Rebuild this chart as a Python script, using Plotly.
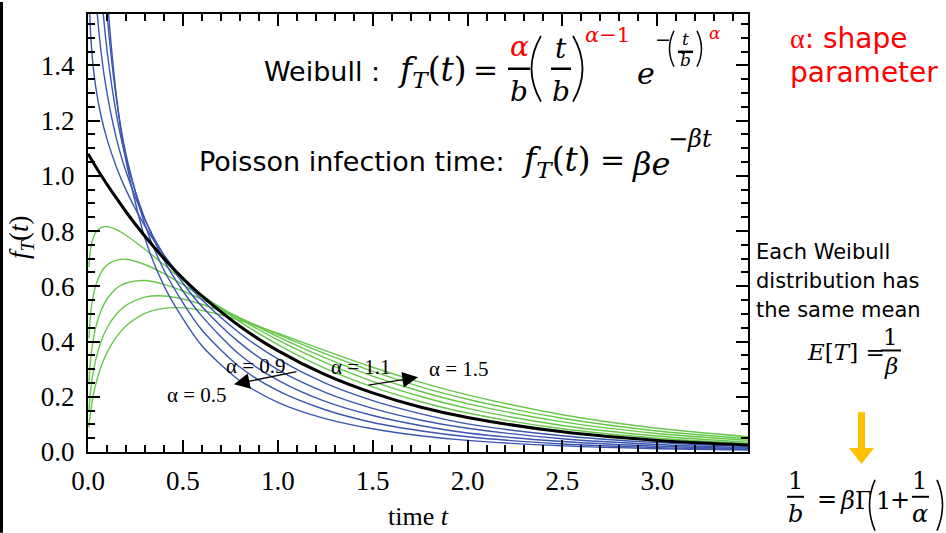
import plotly.graph_objects as go

# ---------------- data ----------------
t_vals = [0.005, 0.01, 0.02, 0.04, 0.07, 0.1, 0.15, 0.2, 0.3, 0.4, 0.5, 0.6,
          0.8, 1.0, 1.25, 1.5, 1.75, 2.0, 2.5, 3.0, 3.5]
t_black = [0.0] + t_vals

alpha_blue = ["0.5", "0.6", "0.7", "0.8", "0.9"]
alpha_green = ["1.1", "1.2", "1.3", "1.4", "1.5"]

f_05 = [8.247, 5.800, 4.057, 2.808, 2.055, 1.664, 1.288, 1.056, 0.774, 0.602, 0.483, 0.385,
        0.258, 0.180, 0.121, 0.084, 0.059, 0.042, 0.022, 0.012, 0.007]
f_06 = [5.823, 4.390, 3.291, 2.441, 1.889, 1.586, 1.277, 1.079, 0.823, 0.659, 0.541, 0.442,
        0.308, 0.222, 0.153, 0.107, 0.077, 0.055, 0.029, 0.016, 0.009]
f_07 = [3.964, 3.202, 2.573, 2.045, 1.674, 1.456, 1.222, 1.062, 0.844, 0.695, 0.583, 0.492,
        0.352, 0.260, 0.183, 0.132, 0.096, 0.069, 0.038, 0.021, 0.012]
f_08 = [2.622, 2.270, 1.955, 1.666, 1.442, 1.300, 1.135, 1.016, 0.841, 0.712, 0.612, 0.527,
        0.395, 0.298, 0.216, 0.158, 0.116, 0.086, 0.048, 0.027, 0.015]
f_09 = [1.694, 1.572, 1.451, 1.325, 1.213, 1.133, 1.031, 0.949, 0.818, 0.714, 0.626, 0.551,
        0.430, 0.337, 0.249, 0.186, 0.139, 0.102, 0.059, 0.034, 0.019]
f_10 = [1.080, 1.074, 1.068, 1.057, 1.034, 1.001, 0.969, 0.919, 0.870, 0.781, 0.701, 0.629,
        0.565, 0.455, 0.367, 0.280, 0.214, 0.163, 0.125, 0.073, 0.042, 0.025]
f_11 = [0.670, 0.714, 0.757, 0.794, 0.813, 0.816, 0.805, 0.785, 0.734, 0.678, 0.622, 0.569,
        0.472, 0.389, 0.303, 0.236, 0.183, 0.141, 0.084, 0.050, 0.030]
f_12 = [0.412, 0.470, 0.535, 0.601, 0.651, 0.677, 0.695, 0.698, 0.679, 0.646, 0.606, 0.564,
        0.482, 0.406, 0.324, 0.256, 0.202, 0.158, 0.096, 0.058, 0.035]
f_13 = [0.250, 0.306, 0.373, 0.449, 0.514, 0.554, 0.593, 0.612, 0.621, 0.607, 0.583, 0.553,
        0.486, 0.418, 0.341, 0.275, 0.220, 0.175, 0.109, 0.067, 0.041]
f_14 = [0.150, 0.197, 0.257, 0.332, 0.402, 0.449, 0.500, 0.531, 0.561, 0.565, 0.554, 0.535,
        0.484, 0.426, 0.356, 0.292, 0.237, 0.191, 0.122, 0.076, 0.047]
f_15 = [0.089, 0.125, 0.175, 0.243, 0.311, 0.360, 0.417, 0.456, 0.502, 0.520, 0.522, 0.513,
        0.477, 0.430, 0.367, 0.307, 0.253, 0.207, 0.135, 0.086, 0.054]

blue_series = [f_05, f_06, f_07, f_08, f_09]
green_series = [f_11, f_12, f_13, f_14, f_15]

x_ticks = [0.0, 0.5, 1.0, 1.5, 2.0, 2.5, 3.0]
y_ticks = [0.0, 0.2, 0.4, 0.6, 0.8, 1.0, 1.2, 1.4]

# ---------------- styling ----------------
BLUE = "#3A56B0"
GREEN = "#66C74A"
RED = "#FF0000"
ORANGE = "#FFC000"
SERIF = "Liberation Serif"
MATH = "DejaVu Serif"
SANS = "DejaVu Sans"

L, R, T, B = 88, 748, 12, 452
W, H = R - L, B - T


def px(x):
    return (x - L) / W


def py(y):
    return (B - y) / H


fig = go.Figure()

for a, ys in zip(alpha_green, green_series):
    fig.add_trace(go.Scatter(x=t_vals, y=ys, mode="lines", name="α = " + a,
                             line=dict(color=GREEN, width=1.4, shape="spline", smoothing=0.8)))
for a, ys in zip(alpha_blue, blue_series):
    fig.add_trace(go.Scatter(x=t_vals, y=ys, mode="lines", name="α = " + a,
                             line=dict(color=BLUE, width=1.4, shape="spline", smoothing=0.8)))
fig.add_trace(go.Scatter(x=t_black, y=f_10, mode="lines", name="α = 1",
                         line=dict(color="black", width=3, shape="spline", smoothing=0.8)))

tick_font = dict(family=SERIF, size=27, color="black")

fig.update_layout(
    width=946, height=533,
    margin=dict(l=L, r=946 - R, t=T, b=533 - B),
    paper_bgcolor="white", plot_bgcolor="white",
    showlegend=False,
    xaxis=dict(range=[0, 3.478], tickvals=x_ticks, ticktext=["%.1f" % v for v in x_ticks],
               tickfont=tick_font, ticklabelstandoff=4,
               showline=True, linecolor="black", linewidth=2, mirror="allticks",
               ticks="inside", ticklen=12, tickwidth=1.5, tickcolor="black",
               showgrid=False, zeroline=False,
               minor=dict(dtick=0.1, tick0=0, ticks="inside", ticklen=7, tickwidth=1.5,
                          tickcolor="black", showgrid=False)),
    yaxis=dict(range=[0, 1.586], tickvals=y_ticks, ticktext=["%.1f" % v for v in y_ticks],
               tickfont=tick_font, ticklabelstandoff=6,
               showline=True, linecolor="black", linewidth=2, mirror="allticks",
               ticks="inside", ticklen=12, tickwidth=1.5, tickcolor="black",
               showgrid=False, zeroline=False,
               minor=dict(dtick=0.05, tick0=0, ticks="inside", ticklen=7, tickwidth=1.5,
                          tickcolor="black", showgrid=False)),
)


def ann(text, x, y, size, color="black", family=SANS, xanchor="center", yanchor="middle"):
    fig.add_annotation(text=text, x=px(x), y=py(y), xref="paper", yref="paper",
                       showarrow=False, font=dict(family=family, size=size, color=color),
                       xanchor=xanchor, yanchor=yanchor)


def hline(x0, x1, y, w=2, color="black"):
    fig.add_shape(type="line", xref="paper", yref="paper", x0=px(x0), x1=px(x1),
                  y0=py(y), y1=py(y), line=dict(color=color, width=w))


def curve(p0, c, p1, w=1.8):
    path = "M {},{} Q {},{} {},{}".format(px(p0[0]), py(p0[1]), px(c[0]), py(c[1]),
                                          px(p1[0]), py(p1[1]))
    fig.add_shape(type="path", xref="paper", yref="paper", path=path,
                  line=dict(color="black", width=w))


def arrow(tail, head):
    fig.add_annotation(text="", x=px(head[0]), y=py(head[1]), xref="paper", yref="paper",
                       ax=tail[0] - head[0], ay=tail[1] - head[1], showarrow=True,
                       arrowhead=2, arrowsize=2.4, arrowwidth=1.3, arrowcolor="black")


# axis titles
ann("time <i>t</i>", 418, 517, 26, family=SERIF)
fig.add_annotation(text="<i>f</i><sub><i>T</i></sub>(<i>t</i>)", x=px(21), y=py(236),
                   xref="paper", yref="paper", showarrow=False, textangle=-90,
                   xanchor="center", yanchor="middle",
                   font=dict(family=SERIF, size=27, color="black"))

# left slide border
fig.add_shape(type="rect", xref="paper", yref="paper", x0=px(0), x1=px(3),
              y0=py(533), y1=py(0), fillcolor="black", line=dict(width=0))

# in-plot labels
ann("α = 0.9", 256, 366, 21, family=SERIF)
ann("α = 0.5", 197, 395, 21, family=SERIF)
ann("α = 1.1", 361, 367, 21, family=SERIF)
ann("α = 1.5", 459, 369, 21, family=SERIF)
arrow((298, 371), (234, 384))
arrow((367, 385), (418, 377))

# ---- Weibull equation ----
ann("Weibull :", 262, 70, 27, xanchor="left")
ann("<i>f</i><sub><i>T</i></sub>(<i>t</i>)", 395, 70, 33, family=MATH, xanchor="left")
ann("=", 485, 68, 30, family=MATH)
ann("<i>α</i>", 519, 45, 28, color=RED, family=MATH)
hline(508, 530, 67, 2.5)
ann("<i>b</i>", 519, 90, 28, family=MATH)
curve((541, 34), (522, 67), (541, 100))
ann("<i>t</i>", 561, 47, 28, family=MATH)
hline(551, 571, 67, 2.5)
ann("<i>b</i>", 561, 90, 28, family=MATH)
curve((573, 34), (592, 67), (573, 100))
ann("<i>α</i>−1", 607, 33, 21, color=RED, family=MATH)
ann("<i>e</i>", 646, 72, 30, family=MATH)
ann("−", 663, 37, 19, family=MATH)
curve((674, 29), (665, 47), (674, 65), 1.5)
ann("<i>t</i>", 685, 37, 17, family=MATH)
hline(678, 693, 50, 2.5)
ann("<i>b</i>", 685, 58, 17, family=MATH)
curve((697, 29), (706, 47), (697, 65), 1.5)
ann("<i>α</i>", 715, 31, 17, color=RED, family=MATH)

# ---- Poisson equation ----
ann("Poisson infection time:", 197, 160, 27, xanchor="left")
ann("<i>f</i><sub><i>T</i></sub>(<i>t</i>)", 519, 160, 33, family=MATH, xanchor="left")
ann("=", 612, 158, 30, family=MATH)
ann("<i>βe</i>", 630, 163, 32, family=MATH, xanchor="left")
ann("−<i>βt</i>", 666, 138, 24, family=MATH, xanchor="left")

# ---- right-hand notes ----
ann("<span style='font-family:Liberation Serif'>α</span>: shape", 788, 37, 28,
    color=RED, xanchor="left")
ann("parameter", 788, 71, 28, color=RED, xanchor="left")
ann("Each Weibull", 754, 251, 21, xanchor="left")
ann("distribution has", 754, 280, 21, xanchor="left")
ann("the same mean", 754, 309, 21, xanchor="left")
ann("<i>E</i>[<i>T</i>] =", 805, 352, 23, family=MATH, xanchor="left")
ann("1", 891, 336, 23, family=MATH)
hline(881, 901, 350, 2)
ann("<i>β</i>", 891, 366, 23, family=MATH)

# orange arrow
fig.add_shape(type="rect", xref="paper", yref="paper", x0=px(858), x1=px(865),
              y0=py(450), y1=py(412), fillcolor=ORANGE, line=dict(width=0))
fig.add_shape(type="path", xref="paper", yref="paper",
              path="M {},{} L {},{} L {},{} Z".format(px(849), py(448), px(874), py(448),
                                                      px(861.5), py(464)),
              fillcolor=ORANGE, line=dict(width=0))

# 1/b = beta Gamma(1 + 1/alpha)
ann("1", 795, 481, 24, family=MATH)
hline(787, 804, 497, 2)
ann("<i>b</i>", 795, 514, 24, family=MATH)
ann("=", 827, 499, 24, family=MATH)
ann("<i>β</i>Γ", 838, 501, 24, family=MATH, xanchor="left")
curve((875, 480), (864, 505), (875, 531), 1.6)
ann("1", 883, 501, 24, family=MATH)
ann("+", 900, 500, 24, family=MATH)
ann("1", 920, 481, 24, family=MATH)
hline(912, 929, 497, 2)
ann("<i>α</i>", 920, 514, 24, family=MATH)
curve((937, 480), (948, 505), (937, 531), 1.6)

fig.write_html("out.html")
